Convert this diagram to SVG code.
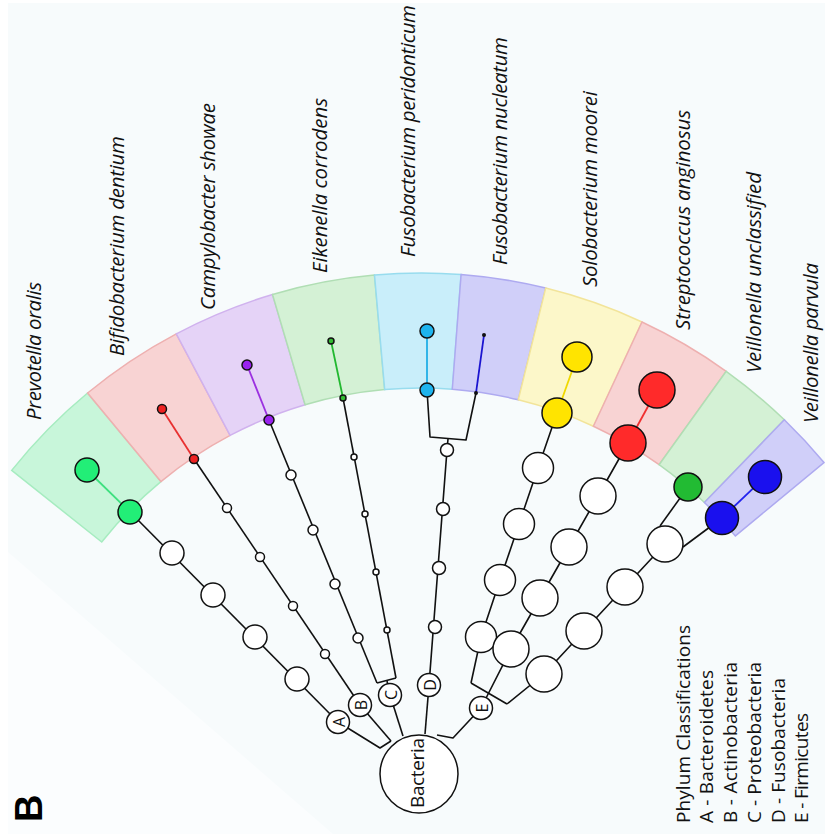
<svg xmlns="http://www.w3.org/2000/svg" width="825" height="834" viewBox="0 0 825 834">
<defs>
<style>
.bg{fill:#f7fbfc}
.band{stroke-width:1.5}
.ln{fill:none;stroke:#111;stroke-width:1.6;stroke-linejoin:round}
.nd{stroke:#111;stroke-width:1.5}
.w{fill:#fff}
.lab{font-family:"Open Sans",Lato,"Liberation Sans",sans-serif;font-style:italic;font-size:20.5px;fill:#111}
.leg{font-family:"Open Sans",Lato,"Liberation Sans",sans-serif;font-size:19px;fill:#111}
.ph{font-family:"Open Sans",Lato,"Liberation Sans",sans-serif;font-size:16px;fill:#111;text-anchor:middle;dominant-baseline:central}
</style>
</defs>
<rect width="825" height="834" fill="#ffffff"/>
<rect class="bg" x="8" y="3" width="817" height="831"/>
<polygon points="8,552 8,834 333,834" fill="#fbfdfe"/>

<g id="bands">
<path class="band" fill="#c8f6da" stroke="#a6ecc0" d="M101.7,542.0 L11.7,470.4 A523,523 0 0 1 87.6,393.0 L160.9,481.6 A408,408 0 0 0 101.7,542.0 Z"/>
<path class="band" fill="#f8d3d3" stroke="#eeb0b0" d="M160.9,481.6 L87.6,393.0 A523,523 0 0 1 176.3,333.8 L230.1,435.4 A408,408 0 0 0 160.9,481.6 Z"/>
<path class="band" fill="#e5d3f7" stroke="#d0b2ee" d="M230.1,435.4 L176.3,333.8 A523,523 0 0 1 272.5,294.5 L305.1,404.8 A408,408 0 0 0 230.1,435.4 Z"/>
<path class="band" fill="#d4f1d5" stroke="#b0deb4" d="M305.1,404.8 L272.5,294.5 A523,523 0 0 1 374.5,275.1 L384.7,389.6 A408,408 0 0 0 305.1,404.8 Z"/>
<path class="band" fill="#c9eefa" stroke="#98dcee" d="M384.7,389.6 L374.5,275.1 A523,523 0 0 1 461.1,274.5 L452.3,389.2 A408,408 0 0 0 384.7,389.6 Z"/>
<path class="band" fill="#d0cff9" stroke="#aeaaf0" d="M452.3,389.2 L461.1,274.5 A523,523 0 0 1 545.7,288.1 L518.3,399.8 A408,408 0 0 0 452.3,389.2 Z"/>
<path class="band" fill="#fcf7c9" stroke="#f2e49a" d="M518.3,399.8 L545.7,288.1 A523,523 0 0 1 642.0,322.0 L593.4,426.2 A408,408 0 0 0 518.3,399.8 Z"/>
<path class="band" fill="#f8d3d3" stroke="#eeb0b0" d="M593.4,426.2 L642.0,322.0 A523,523 0 0 1 726.2,371.3 L659.1,464.7 A408,408 0 0 0 593.4,426.2 Z"/>
<path class="band" fill="#d4f1d5" stroke="#b0deb4" d="M659.1,464.7 L726.2,371.3 A523,523 0 0 1 784.3,419.8 L704.4,502.5 A408,408 0 0 0 659.1,464.7 Z"/>
<path class="band" fill="#d0cff9" stroke="#aeaaf0" d="M704.4,502.5 L784.3,419.8 A523,523 0 0 1 824.0,462.6 L735.4,535.9 A408,408 0 0 0 704.4,502.5 Z"/>
</g>

<g id="connectors">
<polyline class="ln" points="338,722 380,748 391,741"/>
<polyline class="ln" points="360,705 391,741"/>
<polyline class="ln" points="390,695 403,736"/>
<polyline class="ln" points="429,685 425,734"/>
<polyline class="ln" points="481,708 453,738 437,735"/>
<polyline class="ln" points="338,722 130,512"/>
<line x1="130" y1="512" x2="87" y2="470" stroke="#3ee07f" stroke-width="1.8"/>
<polyline class="ln" points="360,705 194,459"/>
<line x1="194" y1="459" x2="162" y2="409" stroke="#e83030" stroke-width="1.8"/>
<polyline class="ln" points="390,695 387,681"/>
<polyline class="ln" points="377,683 396,678"/>
<polyline class="ln" points="377,683 269,420"/>
<line x1="269" y1="420" x2="247" y2="365" stroke="#9b30e0" stroke-width="1.8"/>
<polyline class="ln" points="396,678 343,398"/>
<line x1="343" y1="398" x2="331" y2="341" stroke="#22b830" stroke-width="1.8"/>
<polyline class="ln" points="429,685 447,450 448,439"/>
<polyline class="ln" points="427,390 430,437 466,440 476,393"/>
<line x1="427" y1="390" x2="427" y2="331" stroke="#22aee6" stroke-width="1.8"/>
<line x1="476" y1="393" x2="484" y2="335" stroke="#1a14d0" stroke-width="1.8"/>
<polyline class="ln" points="471,683 507,704"/>
<polyline class="ln" points="471,683 481,637 500,580 519,524 538,468 557,413"/>
<line x1="557" y1="413" x2="577" y2="357" stroke="#f0d800" stroke-width="1.8"/>
<polyline class="ln" points="481,708 511,649 540,598 569,547 598,496 628,443"/>
<line x1="628" y1="443" x2="657" y2="390" stroke="#f03030" stroke-width="1.8"/>
<polyline class="ln" points="507,704 544,674 584,631 625,587 665,544"/>
<polyline class="ln" points="660,526 688,487"/>
<polyline class="ln" points="683,547 722,518"/>
<line x1="722" y1="518" x2="765" y2="477" stroke="#2222ee" stroke-width="1.8"/>
</g>

<g id="root"><circle class="nd w" cx="419" cy="774" r="39"/><text class="leg" font-size="18" textLength="70" transform="rotate(-90 424 808)" x="424" y="808">Bacteria</text></g>

<g id="phylum-A"><circle class="nd w" cx="338" cy="722" r="11.5"/><text class="ph" transform="rotate(-90 339 722)" x="339" y="722">A</text></g>
<g id="phylum-B"><circle class="nd w" cx="360" cy="705" r="11.5"/><text class="ph" transform="rotate(-90 361 705)" x="361" y="705">B</text></g>
<g id="phylum-C"><circle class="nd w" cx="390" cy="695" r="11.5"/><text class="ph" transform="rotate(-90 391 695)" x="391" y="695">C</text></g>
<g id="phylum-D"><circle class="nd w" cx="429" cy="685" r="11.5"/><text class="ph" transform="rotate(-90 430 685)" x="430" y="685">D</text></g>
<g id="phylum-E"><circle class="nd w" cx="481" cy="708" r="11.5"/><text class="ph" transform="rotate(-90 482 708)" x="482" y="708">E</text></g>

<g id="prevotella">
<circle class="nd w" cx="297" cy="679" r="12"/><circle class="nd w" cx="255" cy="637" r="12"/><circle class="nd w" cx="213" cy="595" r="12"/><circle class="nd w" cx="172" cy="553" r="12"/>
<circle class="nd" fill="#22ee77" cx="130" cy="512" r="12"/><circle class="nd" fill="#22ee77" cx="87" cy="470" r="12"/>
<text class="lab" textLength="138" transform="rotate(-90 41 420)" x="41" y="420">Prevotella oralis</text>
</g>
<g id="bifidobacterium">
<circle class="nd w" cx="325" cy="654" r="4.5"/><circle class="nd w" cx="293" cy="606" r="4.5"/><circle class="nd w" cx="260" cy="557" r="4.5"/><circle class="nd w" cx="227" cy="508" r="4.5"/>
<circle class="nd" fill="#ee2222" cx="194" cy="459" r="4.5"/><circle class="nd" fill="#ee2222" cx="162" cy="409" r="4.5"/>
<text class="lab" textLength="220" transform="rotate(-90 124 356)" x="124" y="356">Bifidobacterium dentium</text>
</g>
<g id="campylobacter">
<circle class="nd w" cx="358" cy="638" r="5"/><circle class="nd w" cx="335" cy="584" r="5"/><circle class="nd w" cx="313" cy="530" r="5"/><circle class="nd w" cx="291" cy="475" r="5"/>
<circle class="nd" fill="#9922ee" cx="269" cy="420" r="5"/><circle class="nd" fill="#9922ee" cx="247" cy="365" r="5"/>
<text class="lab" textLength="207" transform="rotate(-90 215 310)" x="215" y="310">Campylobacter showae</text>
</g>
<g id="eikenella">
<circle class="nd w" cx="387" cy="630" r="3"/><circle class="nd w" cx="376" cy="572" r="3"/><circle class="nd w" cx="365" cy="514" r="3"/><circle class="nd w" cx="354" cy="457" r="3"/>
<circle class="nd" fill="#33bb33" cx="343" cy="398" r="3"/><circle class="nd" fill="#33bb33" cx="331" cy="341" r="3"/>
<text class="lab" textLength="175" transform="rotate(-90 327 273)" x="327" y="273">Eikenella corrodens</text>
</g>
<g id="fuso-peridonticum">
<circle class="nd w" cx="435" cy="627" r="6.5"/><circle class="nd w" cx="439" cy="568" r="6.5"/><circle class="nd w" cx="443" cy="509" r="6.5"/><circle class="nd w" cx="447" cy="450" r="6.5"/>
<circle class="nd" fill="#1eb4ee" cx="427" cy="390" r="7"/><circle class="nd" fill="#1eb4ee" cx="427" cy="331" r="7"/>
<text class="lab" textLength="252" transform="rotate(-90 415 257)" x="415" y="257">Fusobacterium peridonticum</text>
</g>
<g id="fuso-nucleatum">
<circle fill="#111" cx="476" cy="393" r="2"/><circle fill="#111" cx="484" cy="335" r="2"/>
<text class="lab" textLength="228" transform="rotate(-90 507 265)" x="507" y="265">Fusobacterium nucleatum</text>
</g>
<g id="solobacterium">
<circle class="nd w" cx="481" cy="637" r="15.5"/><circle class="nd w" cx="500" cy="580" r="15.5"/><circle class="nd w" cx="519" cy="524" r="15.5"/><circle class="nd w" cx="538" cy="468" r="15.5"/>
<circle class="nd" fill="#ffe400" cx="557" cy="413" r="15"/><circle class="nd" fill="#ffe400" cx="577" cy="357" r="15"/>
<text class="lab" textLength="196" transform="rotate(-90 597 287)" x="597" y="287">Solobacterium moorei</text>
</g>
<g id="streptococcus">
<circle class="nd w" cx="511" cy="649" r="18"/><circle class="nd w" cx="540" cy="598" r="18"/><circle class="nd w" cx="569" cy="547" r="18"/><circle class="nd w" cx="598" cy="496" r="18"/>
<circle class="nd" fill="#ff2a2a" cx="628" cy="443" r="18"/><circle class="nd" fill="#ff2a2a" cx="657" cy="390" r="18"/>
<text class="lab" textLength="220" transform="rotate(-90 690 330)" x="690" y="330">Streptococcus anginosus</text>
</g>
<g id="veillonella">
<circle class="nd w" cx="544" cy="674" r="18"/><circle class="nd w" cx="584" cy="631" r="18"/><circle class="nd w" cx="625" cy="587" r="18"/><circle class="nd w" cx="665" cy="544" r="18"/>
</g>
<g id="veillonella-unclassified">
<circle class="nd" fill="#22bb33" cx="688" cy="487" r="14"/>
<text class="lab" textLength="201" transform="rotate(-90 761 373)" x="761" y="373">Veillonella unclassified</text>
</g>
<g id="veillonella-parvula">
<circle class="nd" fill="#1a10ee" cx="722" cy="518" r="16.5"/><circle class="nd" fill="#1a10ee" cx="765" cy="477" r="16.5"/>
<text class="lab" textLength="160" transform="rotate(-90 818 423)" x="818" y="423">Veillonella parvula</text>
</g>

<g id="legend">
<text class="leg" textLength="198" transform="rotate(-90 690 823)" x="690" y="823">Phylum Classifications</text>
<text class="leg" textLength="153" transform="rotate(-90 713 823)" x="713" y="823">A - Bacteroidetes</text>
<text class="leg" textLength="161" transform="rotate(-90 737 823)" x="737" y="823">B - Actinobacteria</text>
<text class="leg" textLength="161" transform="rotate(-90 761 823)" x="761" y="823">C - Proteobacteria</text>
<text class="leg" textLength="145" transform="rotate(-90 785 823)" x="785" y="823">D - Fusobacteria</text>
<text class="leg" textLength="110" transform="rotate(-90 808 823)" x="808" y="823">E - Firmicutes</text>
</g>

<g id="panel-label"><text transform="rotate(-90 42 822)" x="42" y="822" font-family="'Liberation Sans',Arial,sans-serif" font-weight="bold" font-size="38" fill="#000">B</text></g>
</svg>
